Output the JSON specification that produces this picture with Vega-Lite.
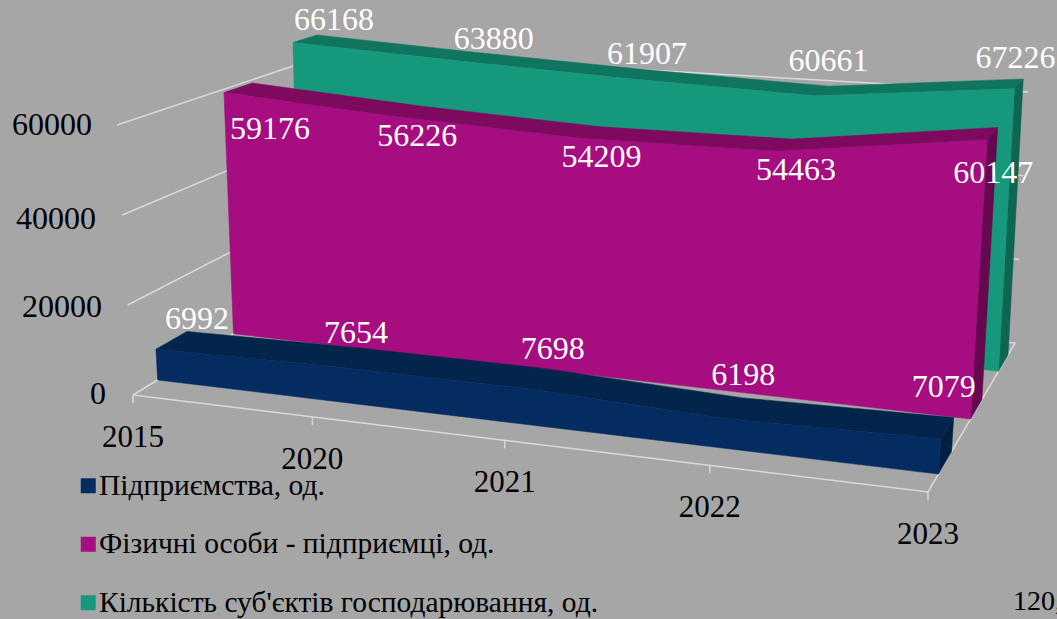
{
"$schema":"https://vega.github.io/schema/vega-lite/v6.json",
"width":1057,"height":619,"padding":0,"autosize":"none","background":"#a6a6a6",
"config":{"view":{"stroke":null},"text":{"font":"Liberation Serif"}},
"data":{"values":[
{"series":"Підприємства, од.","year":"2015","value":6992},
{"series":"Підприємства, од.","year":"2020","value":7654},
{"series":"Підприємства, од.","year":"2021","value":7698},
{"series":"Підприємства, од.","year":"2022","value":6198},
{"series":"Підприємства, од.","year":"2023","value":7079},
{"series":"Фізичні особи - підприємці, од.","year":"2015","value":59176},
{"series":"Фізичні особи - підприємці, од.","year":"2020","value":56226},
{"series":"Фізичні особи - підприємці, од.","year":"2021","value":54209},
{"series":"Фізичні особи - підприємці, од.","year":"2022","value":54463},
{"series":"Фізичні особи - підприємці, од.","year":"2023","value":60147},
{"series":"Кількість суб'єктів господарювання, од.","year":"2015","value":66168},
{"series":"Кількість суб'єктів господарювання, од.","year":"2020","value":63880},
{"series":"Кількість суб'єктів господарювання, од.","year":"2021","value":61907},
{"series":"Кількість суб'єктів господарювання, од.","year":"2022","value":60661},
{"series":"Кількість суб'єктів господарювання, од.","year":"2023","value":67226}
]},
"transform":[
{"calculate":"indexof(['2015','2020','2021','2022','2023'],datum.year)","as":"idx"},
{"calculate":"indexof(['Підприємства, од.','Фізичні особи - підприємці, од.',\"Кількість суб'єктів господарювання, од.\"],datum.series)","as":"k"},
{"calculate":"['ft','bt','ff','bf']","as":"corner"},
{"flatten":["corner"]},
{"calculate":"0.87*datum.idx/4+0.13*pow(datum.idx/4,2)","as":"t"},
{"calculate":"(datum.corner=='bt'||datum.corner=='bf')?[0.27,0.62,0.92][datum.k]:[0.12,0.49,0.81][datum.k]","as":"d"},
{"calculate":"(datum.corner=='ft'||datum.corner=='bt')?datum.value/60000:0","as":"v"},
{"calculate":"(1-datum.t)*(133+205*datum.d)+datum.t*(928+87*datum.d)","as":"xF"},
{"calculate":"(1-datum.t)*(395-125*datum.d)+datum.t*(492-149*datum.d)","as":"yF"},
{"calculate":"(1-datum.t)*(117+218*datum.d)+datum.t*(948+80*datum.d)","as":"xT"},
{"calculate":"(1-datum.t)*(125-73*datum.d)+datum.t*(187-95*datum.d)","as":"yT"},
{"calculate":"datum.xF+(datum.xT-datum.xF)*datum.v","as":"px"},
{"calculate":"datum.yF+(datum.yT-datum.yF)*datum.v+(datum.k==2?9*pow(datum.t,8)*datum.v:0)","as":"py"},
{"calculate":"datum.corner=='ft'?datum.idx:9-datum.idx","as":"ordFace"},
{"calculate":"indexof(['ft','bt','bf','ff'],datum.corner)","as":"ordRight"},
{"calculate":"datum.px+[[41,23,30,18,3],[46,21,21,19,6],[41,38,17,13,1]][datum.k][datum.idx]","as":"lx"},
{"calculate":"datum.py+[[-30,-34,-39,-43,-52],[36,19,19,19,33],[-22,-22,-25,-35,-31]][datum.k][datum.idx]","as":"ly"}
],
"encoding":{
"x":{"field":"px","type":"quantitative","scale":{"domain":[0,1057],"range":[0,1057]},"axis":null},
"y":{"field":"py","type":"quantitative","scale":{"domain":[0,619],"range":[0,619]},"axis":null}
},
"layer":[
{"data":{"values":[{"tick":0},{"tick":20000},{"tick":40000},{"tick":60000}]},
 "transform":[
 {"calculate":"[0,1,2,3,4]","as":"leg"},{"flatten":["leg"]},
 {"filter":"datum.leg<3||datum.tick==0"},
 {"calculate":"[0,0,1,1,0][datum.leg]","as":"t"},
 {"calculate":"[0,1,1,0,0][datum.leg]","as":"d"},
 {"calculate":"datum.tick/60000","as":"v"},
 {"calculate":"(1-datum.t)*(133+205*datum.d)+datum.t*(928+87*datum.d)","as":"xF"},
 {"calculate":"(1-datum.t)*(395-125*datum.d)+datum.t*(492-149*datum.d)","as":"yF"},
 {"calculate":"(1-datum.t)*(117+218*datum.d)+datum.t*(948+80*datum.d)","as":"xT"},
 {"calculate":"(1-datum.t)*(125-73*datum.d)+datum.t*(187-95*datum.d)","as":"yT"},
 {"calculate":"datum.xF+(datum.xT-datum.xF)*datum.v","as":"px"},
 {"calculate":"datum.yF+(datum.yT-datum.yF)*datum.v","as":"py"}
 ],
 "mark":{"type":"line","stroke":"#d9d9d9","strokeWidth":1.5},
 "encoding":{"detail":{"field":"tick"},"order":{"field":"leg"}}},
{"data":{"values":[{"year":"2015"},{"year":"2020"},{"year":"2021"},{"year":"2022"},{"year":"2023"}]},
 "transform":[
 {"calculate":"indexof(['2015','2020','2021','2022','2023'],datum.year)/4","as":"u"},
 {"calculate":"0.87*datum.u+0.13*datum.u*datum.u","as":"t"},
 {"calculate":"133+795*datum.t","as":"px"},
 {"calculate":"395+97*datum.t","as":"py"},
 {"calculate":"datum.py+8","as":"py2"},
 {"calculate":"datum.py+43","as":"ly"}
 ],
 "layer":[
 {"mark":{"type":"rule","stroke":"#d9d9d9","strokeWidth":1.5},"encoding":{"y2":{"field":"py2"}}},
 {"mark":{"type":"text","fontSize":31,"font":"Liberation Serif","fill":"#000000","baseline":"middle"},
  "encoding":{"y":{"field":"ly","type":"quantitative"},"text":{"field":"year"}}}
 ]},
{"data":{"values":[{"tick":0,"i":0},{"tick":20000,"i":1},{"tick":40000,"i":2},{"tick":60000,"i":3}]},
 "transform":[
 {"calculate":"[106,102,96,92][datum.i]","as":"px"},
 {"calculate":"[394,307,219,125][datum.i]","as":"py"}
 ],
 "mark":{"type":"text","fontSize":32,"font":"Liberation Serif","fill":"#000000","align":"right","baseline":"middle"},
 "encoding":{"text":{"field":"tick","type":"nominal"}}},

{"transform":[{"filter":"datum.k==2&&datum.idx==4"}],"mark":{"type":"line","interpolate":"linear-closed","fill":"#0d6552","stroke":"#0d6552","strokeWidth":0.5},"encoding":{"order":{"field":"ordRight"}}},
{"transform":[{"filter":"datum.k==2&&(datum.corner=='ft'||datum.corner=='bt')"}],"mark":{"type":"line","interpolate":"linear-closed","fill":"#0f755f","stroke":"#0f755f","strokeWidth":0.5},"encoding":{"order":{"field":"ordFace"}}},
{"transform":[{"filter":"datum.k==2&&(datum.corner=='ft'||datum.corner=='ff')"}],"mark":{"type":"line","interpolate":"linear-closed","fill":"#16987c","stroke":"#16987c","strokeWidth":0.5},"encoding":{"order":{"field":"ordFace"}}},

{"transform":[{"filter":"datum.k==1&&datum.idx==4"}],"mark":{"type":"line","interpolate":"linear-closed","fill":"#66084f","stroke":"#66084f","strokeWidth":0.5},"encoding":{"order":{"field":"ordRight"}}},
{"transform":[{"filter":"datum.k==1&&(datum.corner=='ft'||datum.corner=='bt')"}],"mark":{"type":"line","interpolate":"linear-closed","fill":"#7e0a5f","stroke":"#7e0a5f","strokeWidth":0.5},"encoding":{"order":{"field":"ordFace"}}},
{"transform":[{"filter":"datum.k==1&&(datum.corner=='ft'||datum.corner=='ff')"}],"mark":{"type":"line","interpolate":"linear-closed","fill":"#a60d80","stroke":"#a60d80","strokeWidth":0.5},"encoding":{"order":{"field":"ordFace"}}},

{"transform":[{"filter":"datum.k==0&&datum.idx==4"}],"mark":{"type":"line","interpolate":"linear-closed","fill":"#021f42","stroke":"#021f42","strokeWidth":0.5},"encoding":{"order":{"field":"ordRight"}}},
{"transform":[{"filter":"datum.k==0&&(datum.corner=='ft'||datum.corner=='bt')"}],"mark":{"type":"line","interpolate":"linear-closed","fill":"#03244b","stroke":"#03244b","strokeWidth":0.5},"encoding":{"order":{"field":"ordFace"}}},
{"transform":[{"filter":"datum.k==0&&(datum.corner=='ft'||datum.corner=='ff')"}],"mark":{"type":"line","interpolate":"linear-closed","fill":"#042c60","stroke":"#042c60","strokeWidth":0.5},"encoding":{"order":{"field":"ordFace"}}},

{"transform":[{"filter":"datum.corner=='ft'"}],
 "mark":{"type":"text","fontSize":32,"font":"Liberation Serif","fill":"#ffffff","baseline":"middle"},
 "encoding":{"x":{"field":"lx","type":"quantitative"},"y":{"field":"ly","type":"quantitative"},"text":{"field":"value","type":"nominal"}}},

{"transform":[{"filter":"datum.corner=='ft'&&datum.idx==0"}],
 "mark":{"type":"point","filled":true,"opacity":0,"shape":"square"},
 "encoding":{"color":{"field":"series","type":"nominal",
   "scale":{"domain":["Підприємства, од.","Фізичні особи - підприємці, од.","Кількість суб'єктів господарювання, од."],"range":["#042c60","#a60d80","#16987c"]},
   "legend":{"orient":"none","legendX":73.5,"legendY":471,"title":null,"symbolType":"square","symbolSize":225,"symbolOpacity":1,"symbolStrokeWidth":0,"labelFont":"Liberation Serif","labelFontSize":29.5,"labelColor":"#000000","rowPadding":27.5,"labelOffset":-4,"labelLimit":600}}}},

{"data":{"values":[{"note":"120,"}]},
 "transform":[{"calculate":"1013","as":"px"},{"calculate":"602","as":"py"}],
 "mark":{"type":"text","fontSize":28,"font":"Liberation Serif","fill":"#000000","align":"left","baseline":"middle"},
 "encoding":{"text":{"field":"note","type":"nominal"}}}
]
}
